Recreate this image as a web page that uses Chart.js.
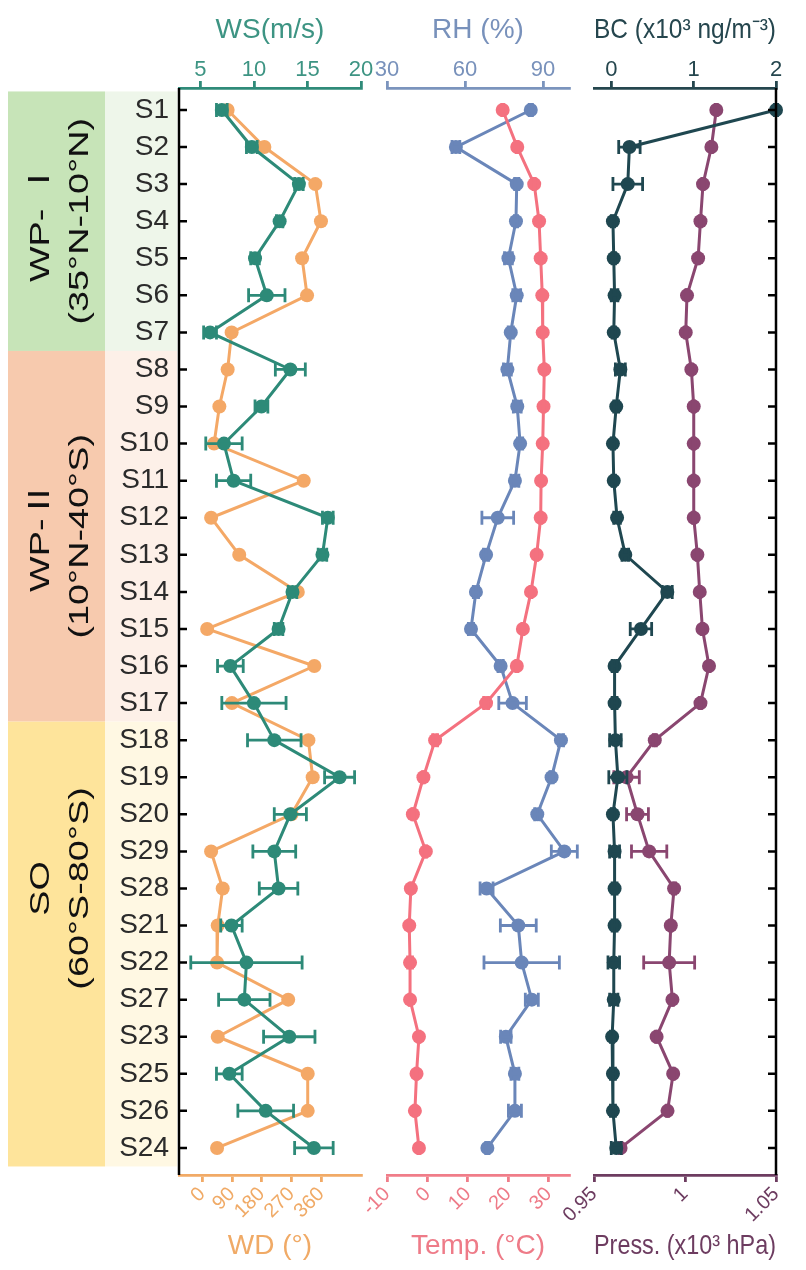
<!DOCTYPE html>
<html>
<head>
<meta charset="utf-8">
<script src="https://cdn.jsdelivr.net/npm/chart.js@4.4.1/dist/chart.umd.min.js"></script>
<style>
  html, body { margin: 0; padding: 0; background: #fff; }
  #wrap { position: relative; width: 806px; height: 1270px; }
  #wrap canvas { position: absolute; left: 0; top: 0; }
</style>
</head>
<body>
<div id="wrap">
  <canvas id="c1" width="806" height="1270"></canvas>
  <canvas id="c2" width="806" height="1270"></canvas>
  <canvas id="c3" width="806" height="1270"></canvas>
</div>
<script>
// stations, top to bottom
const stations = ['S1','S2','S3','S4','S5','S6','S7','S8','S9','S10','S11','S12','S13','S14','S15','S16','S17',
                  'S18','S19','S20','S29','S28','S21','S22','S27','S23','S25','S26','S24'];

// regions
const regionNames = ['WP- \u2160', 'WP-\u2161', 'SO'];
const regionLats = ['(35\u00b0N-10\u00b0N)', '(10\u00b0N-40\u00b0S)', '(60\u00b0S-80\u00b0S)'];
const regionFirst = [0, 7, 17];
const regionLast = [6, 16, 28];
const regionLabelAt = [3, 11.5, 21];

// panel 1: wind
const wsMean = [7.0, 9.8, 14.2, 12.4, 10.1, 11.2, 5.9, 13.4, 10.7, 7.2, 8.1, 16.9, 16.4, 13.6, 12.3, 7.8, 10.0,
                11.9, 18.0, 13.4, 11.9, 12.3, 7.9, 9.3, 9.1, 13.3, 7.7, 11.1, 15.6];
const wsErr = [0.5, 0.5, 0.4, 0.3, 0.4, 1.7, 0.6, 1.4, 0.6, 1.7, 1.6, 0.5, 0.4, 0.4, 0.4, 1.2, 3.0,
               2.5, 1.4, 1.5, 2.0, 1.8, 1.0, 5.2, 2.4, 2.4, 1.2, 2.6, 1.8];
const wdMean = [77, 188, 342, 359, 302, 317, 89, 77, 52, 36, 307, 27, 112, 289, 15, 339, 90,
                321, 334, 270, 27, 62, 47, 45, 260, 47, 319, 319, 45];

// panel 2: humidity and temperature
const rhMean = [85.3, 56.5, 79.9, 79.6, 76.7, 79.9, 77.6, 76.3, 80.1, 81.2, 79.2, 72.6, 68.1, 64.2, 62.3, 73.7, 78.3,
                96.9, 93.3, 87.8, 98.2, 68.3, 80.5, 81.8, 85.7, 75.7, 79.2, 79.2, 68.6];
const rhErr = [0.6, 1.5, 0.8, 0.6, 1.5, 1.5, 1.0, 1.5, 1.5, 1.0, 1.5, 6.1, 1.0, 1.0, 1.0, 1.0, 5.3,
               1.0, 0.6, 1.0, 5.0, 2.5, 6.9, 14.5, 2.5, 2.0, 1.5, 2.5, 0.6];
const tempMean = [18.6, 22.2, 26.4, 27.6, 28.0, 28.4, 28.5, 28.9, 28.7, 28.5, 28.1, 28.0, 27.0, 25.6, 23.6, 22.1, 14.5,
                  1.9, -1.0, -3.6, -0.4, -4.1, -4.5, -4.3, -4.3, -2.1, -2.7, -3.1, -2.1];
const tempErr = [0.2, 0.2, 0.2, 0.2, 0.2, 0.2, 0.2, 0.2, 0.2, 0.2, 0.2, 0.2, 0.2, 0.2, 0.2, 0.2, 0.6,
                 0.6, 0.2, 0.2, 0.2, 0.2, 0.2, 0.6, 0.2, 0.2, 0.2, 0.2, 0.2];

// panel 3: black carbon and pressure
const bcMean = [2.0, 0.22, 0.20, 0.02, 0.03, 0.04, 0.03, 0.11, 0.06, 0.02, 0.03, 0.07, 0.17, 0.68, 0.36, 0.04, 0.04,
                0.05, 0.08, 0.02, 0.04, 0.04, 0.04, 0.03, 0.03, 0.01, 0.02, 0.02, 0.06];
const bcErr = [0.02, 0.13, 0.18, 0.02, 0.02, 0.04, 0.02, 0.06, 0.03, 0.02, 0.02, 0.04, 0.04, 0.06, 0.13, 0.03, 0.03,
               0.07, 0.11, 0.02, 0.06, 0.03, 0.03, 0.07, 0.05, 0.02, 0.03, 0.03, 0.06];
const pressMean = [1.0172, 1.0145, 1.0099, 1.0085, 1.0072, 1.0011, 1.0004, 1.0035, 1.0048, 1.0048, 1.0048, 1.0048, 1.0068, 1.0081, 1.0096, 1.0132, 1.0085,
                   0.9834, 0.9679, 0.9739, 0.9803, 0.9940, 0.9922, 0.9913, 0.9931, 0.9844, 0.9935, 0.9904, 0.9646];
const pressErr = [0.0005, 0.0005, 0.0005, 0.0005, 0.0005, 0.0005, 0.0005, 0.0005, 0.0005, 0.0005, 0.0005, 0.0005, 0.0005, 0.0005, 0.0005, 0.0005, 0.0005,
                  0.0008, 0.007, 0.006, 0.0097, 0.0008, 0.0005, 0.014, 0.0005, 0.0005, 0.0005, 0.0005, 0.0005];

// tick labels
const wsTicks = [5, 10, 15, 20];
const wdTicks = [0, 90, 180, 270, 360];
const rhTicks = [30, 60, 90];
const tempTicks = [-10, 0, 10, 20, 30];
const bcTicks = [0, 1, 2];
const pressTicks = [0.95, 1, 1.05];

const FONT = "'Liberation Sans', Arial, 'Noto Sans CJK SC', sans-serif";

const pts = (vals) => vals.map((v, i) => ({x: v, y: i}));

// horizontal error bars, drawn right after their own dataset
const errorBars = {
  id: 'errorBars',
  afterDatasetDraw(chart, args) {
    const ds = chart.data.datasets[args.index];
    if (!ds.err) return;
    const xs = chart.scales[args.meta.xAxisID];
    const ys = chart.scales[args.meta.yAxisID];
    const ctx = chart.ctx;
    ctx.save();
    ctx.strokeStyle = ds.borderColor;
    ctx.lineWidth = 2.8;
    ds.data.forEach((p, i) => {
      const e = ds.err[i];
      if (!e) return;
      const x1 = xs.getPixelForValue(p.x - e);
      const x2 = xs.getPixelForValue(p.x + e);
      const y = ys.getPixelForValue(p.y);
      ctx.beginPath();
      ctx.moveTo(x1, y); ctx.lineTo(x2, y);
      ctx.moveTo(x1, y - 7); ctx.lineTo(x1, y + 7);
      ctx.moveTo(x2, y - 7); ctx.lineTo(x2, y + 7);
      ctx.stroke();
    });
    ctx.restore();
  }
};

// black vertical axis with inward ticks
const sideAxis = {
  id: 'sideAxis',
  afterDraw(chart, args, opts) {
    if (!opts.side) return;
    const ctx = chart.ctx, a = chart.chartArea, y = chart.scales.y;
    const x = opts.side === 'left' ? a.left : a.right;
    const dir = opts.side === 'left' ? 1 : -1;
    ctx.save();
    ctx.strokeStyle = '#000';
    ctx.lineWidth = 2.5;
    ctx.beginPath();
    ctx.moveTo(x, a.top); ctx.lineTo(x, a.bottom);
    stations.forEach((s, i) => {
      const py = y.getPixelForValue(i);
      ctx.moveTo(x, py); ctx.lineTo(x + dir * 8, py);
    });
    ctx.stroke();
    ctx.restore();
  }
};

// region bands behind station labels
const regionBands = {
  id: 'regionBands',
  beforeDraw(chart) {
    const ctx = chart.ctx, y = chart.scales.y;
    const dark = ['#c7e4b8', '#f7caae', '#fee49b'];
    const light = ['#eef6ea', '#fdf0e8', '#fff8e3'];
    ctx.save();
    regionNames.forEach((name, r) => {
      const top = y.getPixelForValue(regionFirst[r] - 0.5);
      const bot = y.getPixelForValue(regionLast[r] + 0.5);
      ctx.fillStyle = dark[r];
      ctx.fillRect(8, top, 97, bot - top);
      ctx.fillStyle = light[r];
      ctx.fillRect(105, top, 72, bot - top);
      const cy = y.getPixelForValue(regionLabelAt[r]);
      ctx.fillStyle = '#111';
      ctx.font = '28px ' + FONT;
      ctx.textAlign = 'center';
      ctx.textBaseline = 'middle';
      [[name, 41], [regionLats[r], 80]].forEach(([t, cx]) => {
        ctx.save();
        ctx.translate(cx, cy);
        ctx.rotate(-Math.PI / 2);
        ctx.scale(1.35, 1);
        ctx.fillText(t, 0, 0);
        ctx.restore();
      });
    });
    ctx.restore();
  }
};

function xAxis(pos, min, max, ticks, title, lineColor, textColor, rotate) {
  return {
    type: 'linear', axis: 'x', position: pos, min: min, max: max,
    afterBuildTicks: s => { s.ticks = ticks.map(v => ({value: v})); },
    afterFit: s => { s.height = pos === 'top' ? 88 : 95; },
    border: {color: lineColor, width: 2.8},
    grid: {drawOnChartArea: false, color: lineColor, lineWidth: 2.8, tickLength: 7},
    ticks: {
      color: textColor, autoSkip: false, padding: rotate ? 2 : 0,
      minRotation: rotate ? 45 : 0, maxRotation: rotate ? 45 : 0,
      font: {family: FONT, size: rotate ? 20 : 22, lineHeight: 1},
      callback: v => String(v)
    },
    title: {
      display: true, text: title, color: textColor,
      font: {family: FONT, size: 28},
      padding: pos === 'top' ? {top: 13, bottom: 0} : {top: 0, bottom: 7}
    }
  };
}

function yAxis(show) {
  return {
    type: 'linear', min: -0.593, max: 28.73, reverse: true, position: 'left', display: show,
    afterBuildTicks: s => { s.ticks = stations.map((_, i) => ({value: i})); },
    afterFit: s => { s.width = show ? 179 : 0; },
    grid: {display: false, drawTicks: false},
    border: {display: false},
    ticks: {autoSkip: false, color: '#2b2b2b', padding: 10,
            font: {family: FONT, size: 28}, callback: v => stations[v]}
  };
}

function series(label, vals, err, color, axisId) {
  return {
    label: label, data: pts(vals), err: err, xAxisID: axisId, showLine: true,
    borderColor: color, backgroundColor: color, pointBackgroundColor: color,
    borderWidth: 3, pointRadius: 7, pointBorderWidth: 0, clip: false
  };
}

function makeChart(id, datasets, scales, padL, padR, side, extra) {
  return new Chart(document.getElementById(id), {
    type: 'scatter',
    data: {datasets: datasets},
    options: {
      responsive: false, animation: false,
      layout: {padding: {left: padL, right: padR, top: 0, bottom: 0}},
      plugins: {legend: {display: false}, tooltip: {enabled: false}, sideAxis: {side: side}},
      scales: scales
    },
    plugins: [errorBars, sideAxis].concat(extra)
  });
}

makeChart('c1', [
    series('WS', wsMean, wsErr, '#2d8a78', 'ws'),
    series('WD', wdMean, null, '#f4a866', 'wd')
  ], {
    y: yAxis(true),
    ws: xAxis('top', 3, 20, wsTicks, 'WS(m/s)', '#2f8b79', '#3d9483', false),
    wd: xAxis('bottom', -70, 480, wdTicks, 'WD (\u00b0)', '#f1aa66', '#f0aa66', true)
  }, 0, 806 - 361, 'left', [regionBands]);

makeChart('c2', [
    series('Temp', tempMean, tempErr, '#f4717f', 'temp'),
    series('RH', rhMean, rhErr, '#6a86b9', 'rh')
  ], {
    y: yAxis(false),
    rh: xAxis('top', 30, 100, rhTicks, 'RH (%)', '#7b94bd', '#7891bb', false),
    temp: xAxis('bottom', -10, 35, tempTicks, 'Temp. (\u00b0C)', '#f07d89', '#ee7b88', true)
  }, 387, 806 - 569, null, []);

makeChart('c3', [
    series('BC', bcMean, bcErr, '#1f4750', 'bc'),
    series('Press', pressMean, pressErr, '#8a4670', 'press')
  ], {
    y: yAxis(false),
    bc: xAxis('top', -0.21, 2, bcTicks, 'BC (x10\u00b3 ng/m\u207b\u00b3)', '#25464e', '#25464e', false),
    press: xAxis('bottom', 0.95, 1.05, pressTicks, 'Press. (x10\u00b3 hPa)', '#6d3c60', '#6d3c60', true)
  }, 594, 806 - 776, 'right', []);
</script>
</body>
</html>
